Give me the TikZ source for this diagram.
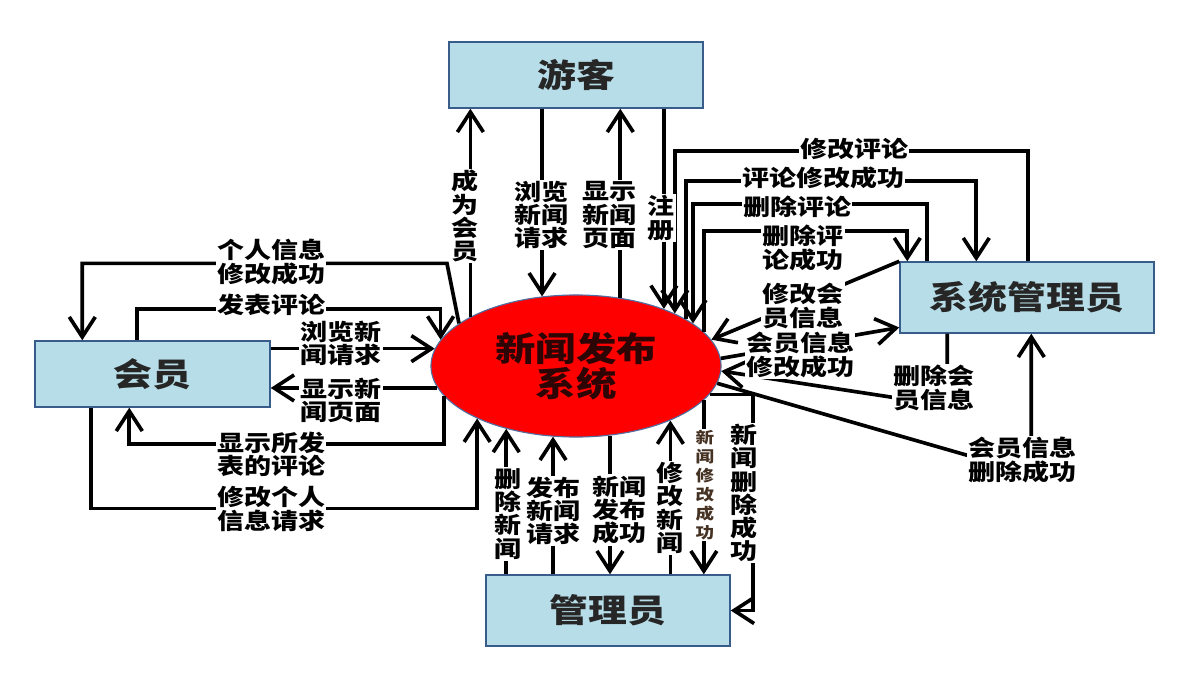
\documentclass[tikz,border=0pt]{standalone}
\usepackage{fontspec}
\setmainfont{Noto Sans CJK SC}[FakeStretch=1.2]
\usetikzlibrary{arrows.meta, calc, shapes.geometric}
\definecolor{bleuclair}{RGB}{183,221,232}
\definecolor{bleubord}{RGB}{56,93,138}
\definecolor{bordellipse}{RGB}{80,110,160}
\definecolor{texteellipse}{RGB}{45,5,5}
\definecolor{brunfonce}{RGB}{70,50,35}

\begin{document}
\begin{tikzpicture}[x=0.025cm, y=-0.025cm,
    >={Straight Barb[length=5mm,width=6.5mm]},
    acteur/.style={rectangle, draw=bleubord, fill=bleuclair, line width=1pt,
                   inner sep=0pt, text=black!85, font=\fontsize{23}{25}\selectfont\bfseries},
    systeme/.style={ellipse, draw=bordellipse, fill=red, line width=0.8pt, inner sep=0pt,
                    minimum width=7.25cm, minimum height=3.55cm, align=center,
                    text=texteellipse, font=\fontsize{24}{25}\selectfont\bfseries},
    flux/.style={->, line width=2.6pt},
    etiq/.style={fill=white, inner sep=1pt, align=center,
                 font=\fontsize{16}{16.5}\selectfont\bfseries}]
    \useasboundingbox (0,0) rectangle (1189,684);
    % acteurs et systeme
    \node[acteur, minimum width=6.35cm, minimum height=1.65cm] (visiteur) at (576,75) {游客};
    \node[acteur, minimum width=6.35cm, minimum height=1.775cm] (sysadmin) at (1027,297.5) {系统管理员};
    \node[acteur, minimum width=5.875cm, minimum height=1.65cm] (membre) at (152.5,374) {会员};
    \node[acteur, minimum width=6.1cm, minimum height=1.775cm] (gestion) at (608,610.5) {管理员};
    \node[systeme] (sys) at (576,366) {新闻发布\\系统};
    % flux du visiteur
    \draw[flux] (sys.155) -- (visiteur.south -| sys.155);
    \draw[flux] (visiteur.south -| sys.116) -- (sys.116);
    \draw[flux] (sys.57) -- (visiteur.south -| sys.57);
    \draw[flux] (visiteur.south -| sys.33) -- (sys.33);
    % flux du systeme d'administration
    \draw[flux] ($(sysadmin.north)+(1,0)$) -- ++(0,-110) -| (sys.28);
    \draw[flux] (sys.23) |- ($(sysadmin.north west)+(77,-80)$) -- ($(sysadmin.north west)+(77,0)$);
    \draw[flux] ($(sysadmin.north west)+(28,0)$) -- ++(0,-57) -| (sys.20);
    \draw[flux] (sys.15) |- ($(sysadmin.north west)+(8,-30)$) -- ($(sysadmin.north west)+(8,0)$);
    \draw[flux] (sysadmin.north west) -- (sys.11);
    \draw[flux] (sys.3) -- ($(sysadmin.west)+(0,30)$);
    \draw[flux] ($(sysadmin.south west)+(48,0)$) -- ++(0,72) -- (sys.358);
    \draw[flux] (sys.353) -- ($(sysadmin.south west)+(132,140)$) -- ($(sysadmin.south west)+(132,0)$);
    % flux du membre
    \draw[flux] (sys.160) -- ($(sys.160)+(-12,-60)$) -| ($(membre.north west)+(48,0)$);
    \draw[flux] ($(membre.north west)+(103,0)$) |- ($(sys.169)+(0,-31)$) -- (sys.169);
    \draw[flux] (membre.east |- sys.173) -- (sys.173);
    \draw[flux] (sys.189) -- (membre.east |- sys.189);
    \draw[flux] (sys.193) |- ($(membre.south west)+(95,36)$) -- ($(membre.south west)+(95,0)$);
    \draw[flux] ($(membre.south west)+(57,0)$) |- ($(sys.208)+(0,90)$) -- (sys.208);
    % flux du gestionnaire
    \draw[flux] (gestion.north -| sys.222) -- (sys.222);
    \draw[flux] (gestion.north -| sys.252) -- (sys.252);
    \draw[flux] (sys.296) -- (gestion.north -| sys.296);
    \draw[flux] (gestion.north -| sys.330) -- (sys.330);
    \draw[flux] (sys.345) -- (gestion.north -| sys.345);
    \draw[flux] (sys.348) -| ($(gestion.east)+(22,0)$) -- (gestion.east);
    % etiquettes
    \node[etiq] (e-devenir) at (465,216) {成\\为\\会\\员};
    \node[etiq] (e-parcourir) at (541,215) {浏览\\新闻\\请求};
    \node[etiq] (e-afficher) at (609,215) {显示\\新闻\\页面};
    \node[etiq] (e-inscrire) at (661,218) {注\\册};
    \node[etiq] (e-modcom) at (854,149) {修改评论};
    \node[etiq] (e-modcomok) at (823,178) {评论修改成功};
    \node[etiq] (e-supcom) at (797,207) {删除评论};
    \node[etiq] (e-supcomok) at (803,248) {删除评\\论成功};
    \node[etiq] (e-modmem) at (803,306) {修改会\\员信息};
    \node[etiq] (e-modmemok) at (800,355) {会员信息\\修改成功};
    \node[etiq] (e-supmem) at (934,388) {删除会\\员信息};
    \node[etiq] (e-supmemok) at (1022,460) {会员信息\\删除成功};
    \node[etiq] (e-infook) at (271,262) {个人信息\\修改成功};
    \node[etiq] (e-publier) at (271,305) {发表评论};
    \node[etiq] (e-mparcourir) at (341,343) {浏览新\\闻请求};
    \node[etiq] (e-mafficher) at (341,400) {显示新\\闻页面};
    \node[etiq] (e-mescom) at (271,454) {显示所发\\表的评论};
    \node[etiq] (e-modinfo) at (271,509) {修改个人\\信息请求};
    \node[etiq] (e-supnews) at (508,514) {删\\除\\新\\闻};
    \node[etiq] (e-pubnews) at (553,511) {发布\\新闻\\请求};
    \node[etiq] (e-pubnewsok) at (619,510) {新闻\\发布\\成功};
    \node[etiq] (e-modnews) at (670,508) {修\\改\\新\\闻};
    \node[etiq, text=brunfonce, font=\fontsize{11}{13.5}\selectfont\bfseries] (e-modnewsok) at (705,485) {新\\闻\\修\\改\\成\\功};
    \node[etiq] (e-supnewsok) at (744,493) {新\\闻\\删\\除\\成\\功};
\end{tikzpicture}
\end{document}
